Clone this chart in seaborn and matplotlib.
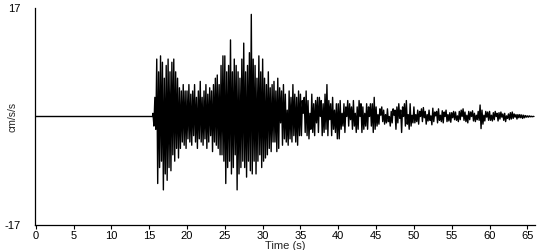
import numpy as np
import pandas as pd
import matplotlib
matplotlib.use("Agg")
import matplotlib.pyplot as plt
import seaborn as sns

# ---- data (cm/s/s) ----
quiet_t = [0.0, 15.45]
quiet_a = [0.0, 0.0]

dt = 0.125
start_t = 15.5

blk_15_20 = [0.5, -1.5, 3, -2,
             9, -10.5, 7, -8, 9.5, -7, 8.5, -11.5, 6, -9, 8, -10,
             9, -8, 7, -8.5, 8.5, -6, 9, -7, 7, -5, 6, -6.5,
             4.5, -5, 4, -4, 5, -4.5, 4, -5]
blk_20_25 = [4, -3.5, 5, -4, 3.5, -4.5, 4, -3, 5, -4, 3, -5, 4, -3.5, 5.5, -4,
             3, -4.5, 4, -3.5, 5, -5, 3.5, -4, 4.5, -3, 4, -5.5, 5, -4, 6, -4.5,
             6.5, -5, 5, -6, 8, -6, 9.5, -7]
blk_25_30 = [9.5, -10.5, 7, -8, 8, -7, 12, -9, 7, -8, 9, -6, 8, -11.5, 7, -9,
             6, -8, 9, -7, 11.5, -8, 7, -9.5, 8, -7, 10, -8.5, 16, -9, 9, -7,
             8, -9, 6, -7, 9.5, -6, 7, -8]
blk_30_35 = [9, -7, 6, -6.5, 5, -6, 7, -5, 4.5, -5.5, 5, -4, 5.5, -4, 4, -5.5,
             6, -5, 4.5, -1, 4, -4.5, 5, -3.5, 3.5, -4, 1, -4.5, 4, -3.5, 3, -4,
             5, -3, 3.5, -4, 3, -4.5, 4, -3]
blk_35_40 = [3.5, -3, 2.5, 0.5, 3, -2.5, 4, -3, 2.5, -3.5, 0.5, -2, 3.5, -2.5, 2, -3,
             2.5, -1, 3, -2.5, 3, 0, 2.5, -3, 2, -2.5, 3.5, -2, 5, -3, 2.5, -0.5,
             2, -3, 3, -2, 1, -2.5, 2, -3.5]
blk_40_45 = [2, -3.5, 2.5, -2, 0.5, -1.5, 2, -2.5, 1.5, 0, 2.5, -1.5, 2, -0.5, 1.5, -2,
             2.5, -1.5, 0.5, -2.5, 1.5, -2, 2.5, 0, 2, -2.5, 1.5, -2, 0.5, -1.5, 2, -2,
             1.5, 0, 2, -1.5, 2, -2.5, 3, -2]
blk_45_50 = [1.5, -1.5, 0.3, -1.2, 1.2, 0.2, 1.5, -0.8, 1, -1.2, 0.3, -1, 1.2, -0.8, 0, -1.5,
             0.8, -1, 1.2, 0.2, 1, -2, 1.5, -1, 2, -0.3, 1, -2.5, 1.5, 0, 2, -1.5,
             2.5, -1.2, 0.3, -2, 2, -1.5, 0.2, -1]
blk_50_55 = [1.5, -1, 0.3, -0.8, 1, -1.2, 0.8, 0, 1.2, -0.8, 1.4, -0.2, 0.8, -1.2, 0.3, -0.7,
             1, -0.6, 0.1, -1.3, 1.3, -0.8, 0.7, 0.1, 0.8, -1, 1.2, -0.6, 0.2, -0.8, 0.9, -1,
             0.7, 0, 1, -0.8, 0.3, -0.7, 0.6, -0.9]
blk_55_60 = [0.6, -0.2, 0.8, -0.5, 0.7, -0.6, 0.1, -0.8, 0.8, -0.5, 1, 0, 1.2, -0.6, 0.7, -0.8,
             0.2, -1, 0.8, -0.5, 0.7, 0, 0.9, -0.7, 0.5, -0.8, 0.2, -0.5, 0.8, -0.6, 1.8, -1.9,
             1, -1.2, 0.2, -0.7, 0.8, -0.1, 0.7, -0.6]
blk_60_66 = [0.8, -0.6, 0.2, -0.7, 0.6, -0.5, 0.8, 0, 0.5, -0.7, 0.6, -0.4, 0.7, -0.1, 0.4, -0.6,
             0.5, -0.8, 0.1, -0.3, 0.4, -0.5, 0.6, -0.4, 0.7, -0.3, 0.4, -0.1, 0.3, -0.4, 0.3, -0.2,
             0.3, -0.2, 0.25, -0.3, 0.2, -0.2, 0.15, -0.1, 0.1, -0.1, 0.1, -0.05, 0.05, -0.05, 0.02, 0]

x_ticks = list(range(0, 70, 5))
y_ticks = [-17, 17]

active = (blk_15_20 + blk_20_25 + blk_25_30 + blk_30_35 + blk_35_40 +
          blk_40_45 + blk_45_50 + blk_50_55 + blk_55_60 + blk_60_66)
t_active = start_t + dt * np.arange(len(active))

df = pd.DataFrame({"t": np.concatenate([quiet_t, t_active]),
                   "a": np.concatenate([quiet_a, active])})

sns.set_style("ticks")
plt.rcParams["font.family"] = ["Liberation Sans", "DejaVu Sans"]

fig = plt.figure(figsize=(5.5, 2.5), dpi=100)
ax = fig.add_axes([0.0636, 0.1, 0.909, 0.868])
sns.lineplot(data=df, x="t", y="a", ax=ax, color="black", lw=1.0,
             estimator=None, sort=False)

ax.set_xlim(-0.1, 66)
ax.set_ylim(-17, 17)
ax.set_xticks(x_ticks)
ax.set_yticks(y_ticks)
ax.set_yticklabels([str(v) for v in y_ticks])
ax.tick_params(axis="x", direction="out", length=3, width=0.8, labelsize=8, pad=1.5, colors="black")
ax.tick_params(axis="y", length=0, labelsize=8, pad=10.5, colors="black")
for s in ["top", "right"]:
    ax.spines[s].set_visible(False)
for s in ["left", "bottom"]:
    ax.spines[s].set_color("black")
    ax.spines[s].set_linewidth(0.9)
ax.set_xlabel("Time (s)", fontsize=8, labelpad=0)
ax.set_ylabel("cm/s/s", fontsize=7.5)
ax.yaxis.set_label_coords(-0.034, 0.5)

fig.savefig("out.png", dpi=100)
